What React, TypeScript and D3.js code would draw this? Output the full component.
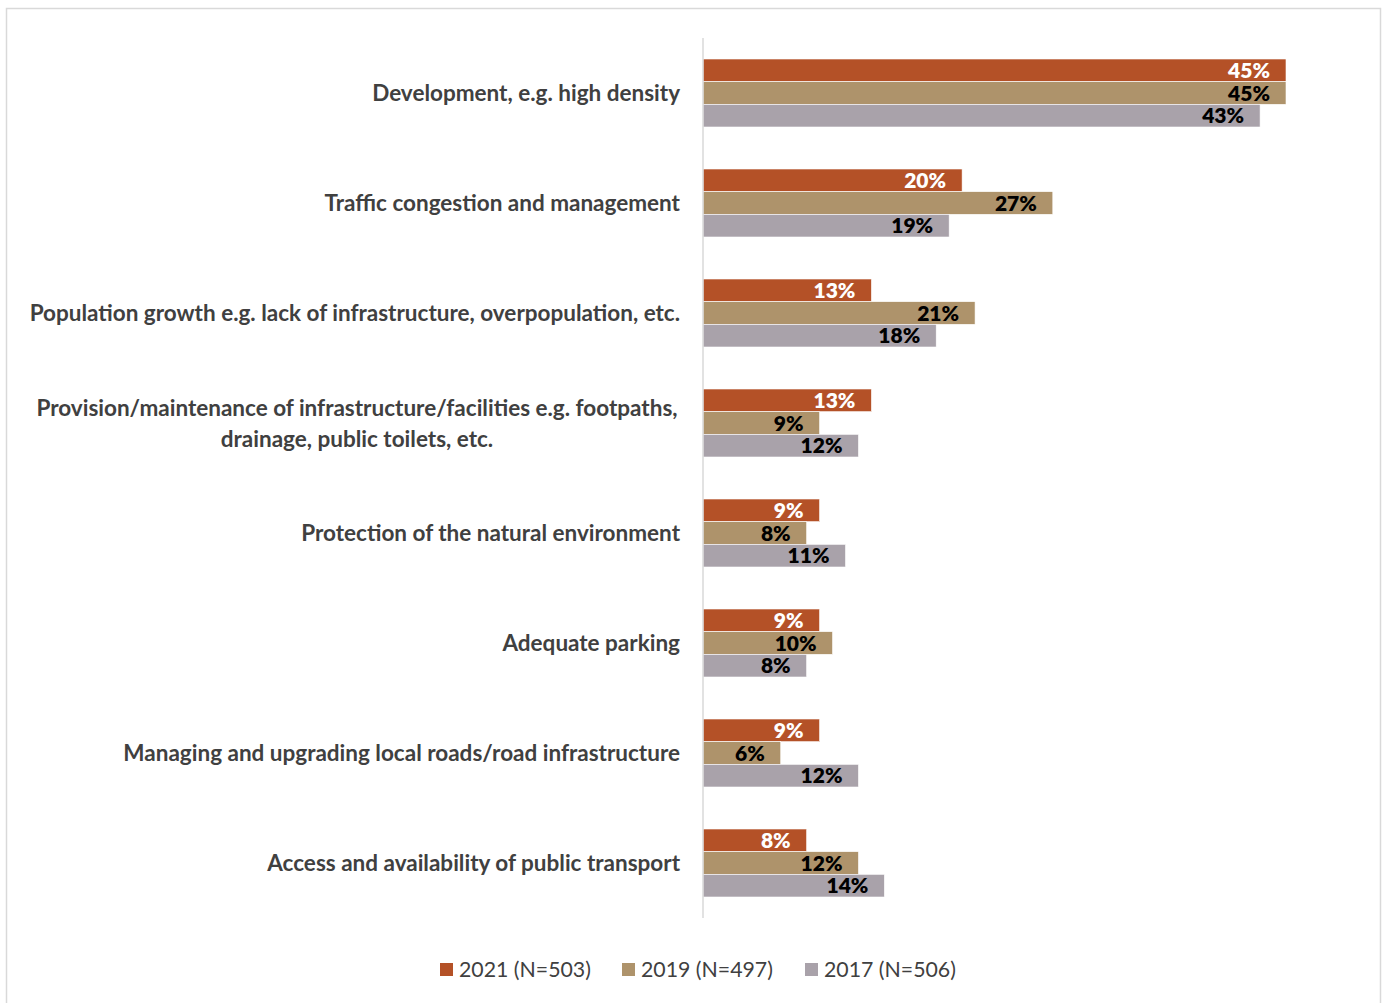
import React, { useEffect, useRef } from "react";
import * as d3 from "d3";

const categories: string[][] = [
  ["Development, e.g. high density"],
  ["Traffic congestion and management"],
  ["Population growth e.g. lack of infrastructure, overpopulation, etc."],
  ["Provision/maintenance of infrastructure/facilities e.g. footpaths,", "drainage, public toilets, etc."],
  ["Protection of the natural environment"],
  ["Adequate parking"],
  ["Managing and upgrading local roads/road infrastructure"],
  ["Access and availability of public transport"],
];

const seriesNames = ["2021 (N=503)", "2019 (N=497)", "2017 (N=506)"];
const values2021 = [45, 20, 13, 13, 9, 9, 9, 8];
const values2019 = [45, 27, 21, 9, 8, 10, 6, 12];
const values2017 = [43, 19, 18, 12, 11, 8, 12, 14];
const seriesColors = ["#B45127", "#AE936B", "#A9A2AA"];
const labelColors = ["#FFFFFF", "#000000", "#000000"];

const W = 1384;
const H = 1003;
const FONT = "Lato, 'Open Sans', sans-serif";

export default function App() {
  const ref = useRef<SVGSVGElement>(null);

  useEffect(() => {
    const svg = d3.select(ref.current);
    svg.selectAll("*").remove();

    const x0 = 703;
    const top = 38;
    const bottom = 918;
    const x = d3.scaleLinear().domain([0, 45]).range([x0, 1286]);
    const idx = categories.map((_, i) => String(i));
    const y = d3.scaleBand().domain(idx).range([top, bottom]).paddingInner(42 / 110).paddingOuter(21 / 110);
    const series = [values2021, values2019, values2017];
    const ys = d3.scaleBand().domain(["0", "1", "2"]).range([0, y.bandwidth()]);

    // border
    svg.append("rect").attr("x", 6.5).attr("y", 8.5).attr("width", 1374).attr("height", 1010)
      .attr("fill", "#fff").attr("stroke", "#D9D9D9").attr("stroke-width", 1.5);

    const g = svg.append("g");
    series.forEach((vals, s) => {
      g.selectAll(null).data(vals).enter().append("rect")
        .attr("x", x(0))
        .attr("y", (_, i) => (y(String(i)) as number) + (ys(String(s)) as number))
        .attr("width", (d) => x(d) - x(0))
        .attr("height", ys.bandwidth())
        .attr("fill", seriesColors[s])
        .attr("stroke", "#fff").attr("stroke-width", 0.6);
      g.selectAll(null).data(vals).enter().append("text")
        .attr("x", (d) => x(d) - 16)
        .attr("y", (_, i) => (y(String(i)) as number) + (ys(String(s)) as number) + ys.bandwidth() / 2)
        .attr("dy", "0.36em")
        .attr("text-anchor", "end")
        .attr("font-family", FONT).attr("font-weight", 800).attr("font-size", 21)
        .attr("fill", labelColors[s])
        .text((d) => `${d}%`);
    });

    // axis line
    svg.append("line").attr("x1", x0).attr("x2", x0).attr("y1", top).attr("y2", bottom)
      .attr("stroke", "#D9D9D9").attr("stroke-width", 1.5);

    // category labels
    categories.forEach((lines, i) => {
      const cy = (y(String(i)) as number) + y.bandwidth() / 2;
      const lh = 31;
      const t = svg.append("text")
        .attr("font-family", FONT).attr("font-weight", 700).attr("font-size", 22.5)
        .attr("fill", "#404040").attr("text-anchor", lines.length > 1 ? "middle" : "end");
      lines.forEach((ln, k) => {
        t.append("tspan")
          .attr("x", lines.length > 1 ? 357 : 680)
          .attr("y", cy + (k - (lines.length - 1) / 2) * lh)
          .attr("dy", "0.36em")
          .text(ln);
      });
    });

    // legend
    const legX = [440, 622, 805];
    seriesNames.forEach((n, s) => {
      svg.append("rect").attr("x", legX[s]).attr("y", 963).attr("width", 13).attr("height", 13).attr("fill", seriesColors[s]);
      svg.append("text").attr("x", legX[s] + 19).attr("y", 969.5).attr("dy", "0.36em")
        .attr("font-family", FONT).attr("font-size", 21.3).attr("fill", "#404040").text(n);
    });
  }, []);

  return (
    <svg ref={ref} width={W} height={H} style={{ position: "absolute", left: 0, top: 0, display: "block" }} />
  );
}
